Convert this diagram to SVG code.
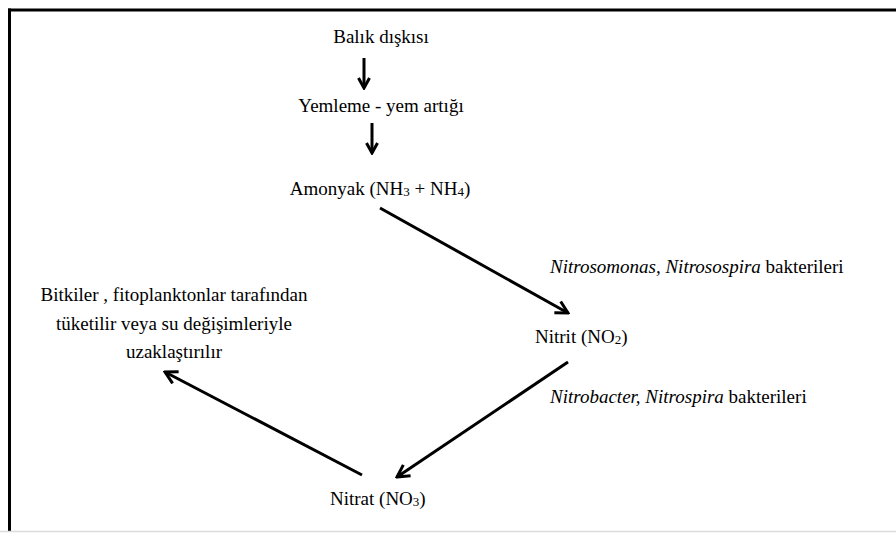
<svg xmlns="http://www.w3.org/2000/svg" width="896" height="533" viewBox="0 0 896 533">
<style>
.t{font-size:19px;fill:#000}
.c{text-anchor:middle}
.i{font-style:italic}
.sub{font-size:13px}
.conn line{stroke:#000;stroke-width:3;fill:none}
</style>
<defs>
<marker id="ah" viewBox="0 0 16 16" refX="14" refY="8" markerWidth="16" markerHeight="16" markerUnits="userSpaceOnUse" orient="auto">
<path d="M2,1.5 L14,8 L2,14.5" fill="none" stroke="#000" stroke-width="3" stroke-linejoin="miter"/>
</marker>
<marker id="ahs" viewBox="0 0 14 14" refX="12" refY="7" markerWidth="14" markerHeight="14" markerUnits="userSpaceOnUse" orient="auto">
<path d="M2,1.5 L12,7 L2,12.5" fill="none" stroke="#000" stroke-width="3"/>
</marker>
</defs>
<rect width="896" height="533" fill="#fff"/>
<g id="frame">
<line x1="8" y1="10" x2="896" y2="10" stroke="#000" stroke-width="3"/>
<line x1="9.5" y1="8.5" x2="9.5" y2="531" stroke="#000" stroke-width="3"/>
<line x1="0" y1="531.5" x2="896" y2="531.5" stroke="#dcdcdc" stroke-width="1.5"/>
</g>
<g font-family="Liberation Serif, Tinos, DejaVu Serif, serif">
<g id="balik"><text class="t c" x="381" y="43">Balık dışkısı</text></g>
<g id="yemleme"><text class="t c" x="381" y="112">Yemleme - yem artığı</text></g>
<g id="amonyak"><text class="t c" x="380" y="195">Amonyak (NH<tspan class="sub" dy="1">3</tspan><tspan dy="-1"> + NH</tspan><tspan class="sub" dy="1">4</tspan><tspan dy="-1">)</tspan></text></g>
<g id="nitrit"><text class="t" x="535" y="343">Nitrit (NO<tspan class="sub" dy="1">2</tspan><tspan dy="-1">)</tspan></text></g>
<g id="nitrat"><text class="t" x="330" y="505">Nitrat (NO<tspan class="sub" dy="1">3</tspan><tspan dy="-1">)</tspan></text></g>
<g id="bitkiler">
<text class="t c" x="174" y="301">Bitkiler , fitoplanktonlar tarafından</text>
<text class="t c" x="174" y="330">tüketilir veya su değişimleriyle</text>
<text class="t c" x="174" y="358">uzaklaştırılır</text>
</g>
<g id="label-nitrosomonas"><text class="t" x="550" y="273"><tspan class="i">Nitrosomonas, Nitrosospira</tspan> bakterileri</text></g>
<g id="label-nitrobacter"><text class="t" x="550" y="403"><tspan class="i">Nitrobacter, Nitrospira</tspan> bakterileri</text></g>
</g>
<g class="conn" id="connectors">
<line x1="364" y1="58" x2="364" y2="88" marker-end="url(#ahs)"/>
<line x1="372" y1="123" x2="372" y2="153" marker-end="url(#ahs)"/>
<line x1="380" y1="208" x2="568" y2="313" marker-end="url(#ah)"/>
<line x1="568" y1="362" x2="397" y2="477" marker-end="url(#ah)"/>
<line x1="362" y1="475" x2="165" y2="372" marker-end="url(#ah)"/>
</g>
</svg>
